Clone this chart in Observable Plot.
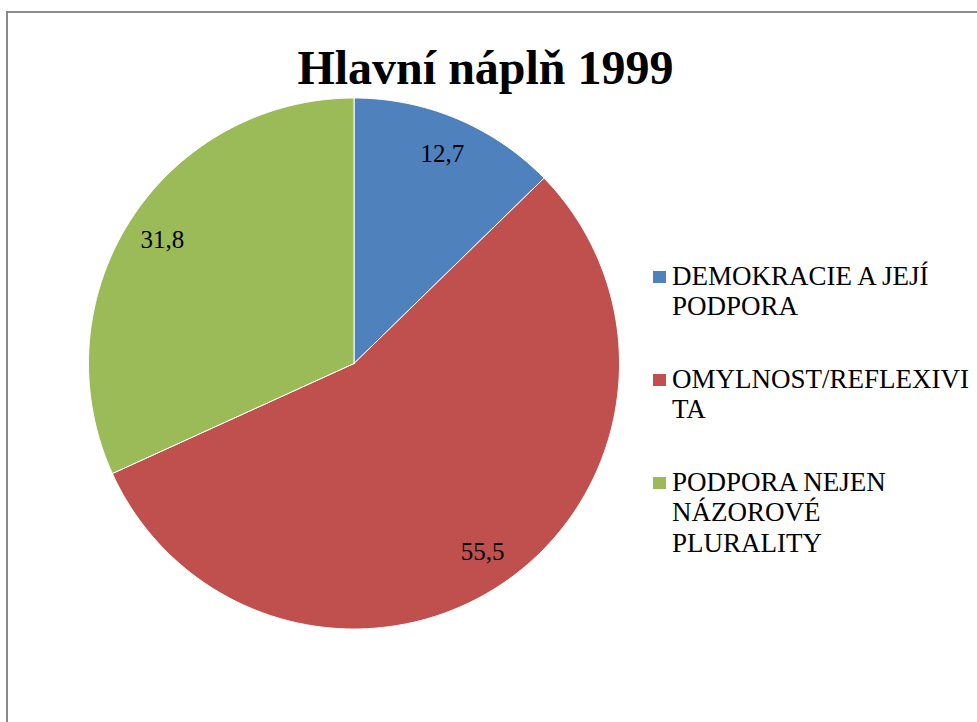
<!DOCTYPE html>
<html>
<head>
<meta charset="utf-8">
<script src="https://cdn.jsdelivr.net/npm/d3@7"></script>
<script src="https://cdn.jsdelivr.net/npm/@observablehq/plot@0.6"></script>
<style>
  html, body { margin: 0; padding: 0; background: #fff; }
  #page { position: relative; width: 977px; height: 722px; overflow: hidden; font-family: "Liberation Serif", "Times New Roman", serif; }
  #frame { position: absolute; left: 6px; top: 11px; width: 1000px; height: 1000px; border-top: 2px solid #8a8a8a; border-left: 2px solid #8a8a8a; }
  #title { position: absolute; left: 0; top: 44px; width: 971px; text-align: center; font-size: 48px; line-height: 48px; font-weight: bold; color: #000; }
  #chart { position: absolute; left: 0; top: 0; }
  #legend { position: absolute; left: 653px; top: 260.6px; font-size: 27px; line-height: 30.5px; color: #000; }
  .item { position: relative; padding-left: 19px; margin-bottom: 42px; white-space: nowrap; }
  .sw { position: absolute; left: 0; top: 10px; width: 13px; height: 12px; }
  #chart text { font-family: "Liberation Serif", "Times New Roman", serif; }
</style>
</head>
<body>
<div id="page">
  <div id="frame"></div>
  <div id="chart"></div>
  <div id="title"></div>
  <div id="legend"></div>
</div>
<script>
const title = "Hlavní náplň 1999";
const categories = ["DEMOKRACIE A JEJÍ PODPORA", "OMYLNOST/REFLEXIVITA", "PODPORA NEJEN NÁZOROVÉ PLURALITY"];
const values = [12.7, 55.5, 31.8];
const colors = ["#4F81BD", "#C0504D", "#9BBB59"];
const legendLines = [["DEMOKRACIE A JEJÍ", "PODPORA"], ["OMYLNOST/REFLEXIVI", "TA"], ["PODPORA NEJEN", "NÁZOROVÉ", "PLURALITY"]];

document.getElementById("title").textContent = title;

// Build slice outlines from cumulative shares (clockwise from 12 o'clock)
const total = d3.sum(values);
const slices = [];
const labels = [];
let cum = 0;
values.forEach((v, i) => {
  const a0 = cum / total * 2 * Math.PI;
  const a1 = (cum + v) / total * 2 * Math.PI;
  cum += v;
  const steps = Math.max(2, Math.ceil((a1 - a0) / (Math.PI / 360)));
  slices.push({cat: categories[i], x: 0, y: 0});
  for (let k = 0; k <= steps; k++) {
    const a = a0 + (a1 - a0) * k / steps;
    slices.push({cat: categories[i], x: Math.sin(a), y: Math.cos(a)});
  }
  slices.push({cat: categories[i], x: 0, y: 0});
  const am = (a0 + a1) / 2;
  labels.push({cat: categories[i], value: v, x: 0.858 * Math.sin(am), y: 0.858 * Math.cos(am)});
});

const cx = 353.5, cy = 363, r = 265.5;
const chart = Plot.plot({
  width: 977,
  height: 722,
  margin: 0,
  x: {domain: [-1, 1], range: [cx - r, cx + r], axis: null},
  y: {domain: [-1, 1], range: [cy + r, cy - r], axis: null},
  color: {domain: categories, range: colors},
  style: {background: "transparent", fontFamily: "'Liberation Serif', 'Times New Roman', serif", overflow: "visible"},
  marks: [
    Plot.line(slices, {x: "x", y: "y", z: "cat", fill: "cat", stroke: "#ffffff", strokeWidth: 1, curve: "linear"}),
    Plot.text(labels, {x: "x", y: "y", text: d => d.value.toFixed(1).replace(".", ","), fill: "#000", fontSize: 25, textAnchor: "middle", lineAnchor: "middle"})
  ]
});
document.getElementById("chart").appendChild(chart);

const legend = document.getElementById("legend");
legendLines.forEach((lines, i) => {
  const item = document.createElement("div");
  item.className = "item";
  const sw = document.createElement("div");
  sw.className = "sw";
  sw.style.background = colors[i];
  item.appendChild(sw);
  lines.forEach(t => {
    const ln = document.createElement("div");
    ln.textContent = t;
    item.appendChild(ln);
  });
  legend.appendChild(item);
});
</script>
</body>
</html>
